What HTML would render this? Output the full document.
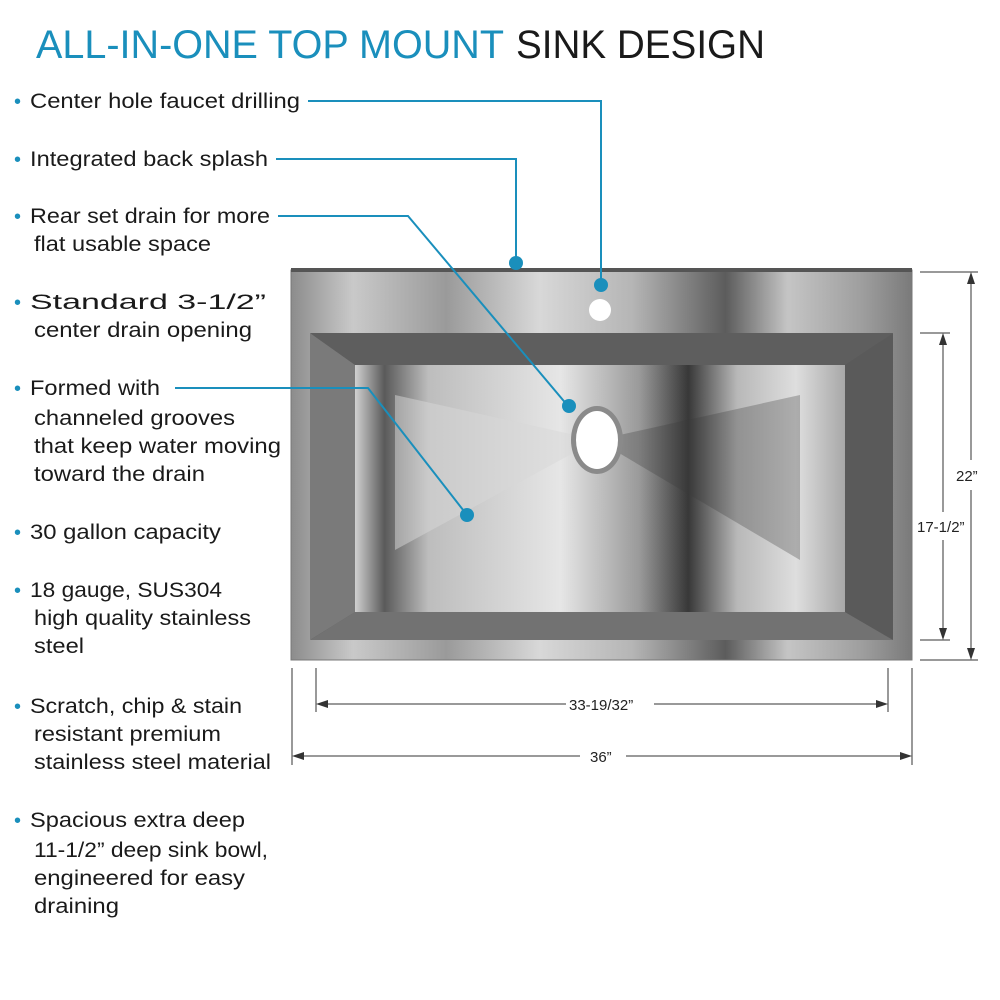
<!DOCTYPE html>
<html><head><meta charset="utf-8"><style>
html,body{margin:0;padding:0;background:#fff;width:1000px;height:1000px;overflow:hidden}
svg{display:block}
text{font-family:"Liberation Sans",sans-serif}
</style></head><body>
<svg width="1000" height="1000" viewBox="0 0 1000 1000" xmlns="http://www.w3.org/2000/svg">
<defs>
<linearGradient id="rim" x1="0" x2="1" y1="0" y2="0">
<stop offset="0" stop-color="#8c8c8c"/><stop offset="0.1" stop-color="#c9c9c9"/><stop offset="0.25" stop-color="#9a9a9a"/><stop offset="0.4" stop-color="#d8d8d8"/><stop offset="0.55" stop-color="#b5b5b5"/><stop offset="0.7" stop-color="#5c5c5c"/><stop offset="0.8" stop-color="#c5c5c5"/><stop offset="0.92" stop-color="#9e9e9e"/><stop offset="1" stop-color="#7a7a7a"/>
</linearGradient>
<linearGradient id="floor" x1="0" x2="1" y1="0" y2="0">
<stop offset="0" stop-color="#d0d0d0"/><stop offset="0.06" stop-color="#5a5a5a"/><stop offset="0.15" stop-color="#bdbdbd"/><stop offset="0.42" stop-color="#e6e6e6"/><stop offset="0.58" stop-color="#9a9a9a"/><stop offset="0.68" stop-color="#383838"/><stop offset="0.78" stop-color="#b8b8b8"/><stop offset="0.9" stop-color="#dedede"/><stop offset="1" stop-color="#a8a8a8"/>
</linearGradient>
<linearGradient id="wall" x1="0" x2="1" y1="0" y2="0">
<stop offset="0" stop-color="#4a4a4a"/><stop offset="0.3" stop-color="#9a9a9a"/><stop offset="0.5" stop-color="#c0c0c0"/><stop offset="0.7" stop-color="#3c3c3c"/><stop offset="1" stop-color="#6a6a6a"/>
</linearGradient>
</defs>

<text x="36" y="58" font-size="40" fill="#1a8fbc" textLength="468" lengthAdjust="spacingAndGlyphs">ALL-IN-ONE TOP MOUNT</text>
<text x="516" y="58" font-size="40" fill="#1a1a1a" textLength="249" lengthAdjust="spacingAndGlyphs">SINK DESIGN</text>

<g font-size="21" fill="#1a1a1a">
<g fill="#1a8fbc" font-size="20">
<text x="14" y="108">•</text><text x="14" y="166">•</text><text x="14" y="223">•</text><text x="14" y="309">•</text><text x="14" y="395">•</text><text x="14" y="539">•</text><text x="14" y="597">•</text><text x="14" y="713">•</text><text x="14" y="827">•</text>
</g>
<text x="30" y="108" textLength="270" lengthAdjust="spacingAndGlyphs">Center hole faucet drilling</text>
<text x="30" y="166" textLength="238" lengthAdjust="spacingAndGlyphs">Integrated back splash</text>
<text x="30" y="223" textLength="240" lengthAdjust="spacingAndGlyphs">Rear set drain for more</text>
<text x="34" y="251" textLength="177" lengthAdjust="spacingAndGlyphs">flat usable space</text>
<text x="30" y="309" textLength="236" lengthAdjust="spacingAndGlyphs">Standard 3-1/2”</text>
<text x="34" y="337" textLength="218" lengthAdjust="spacingAndGlyphs">center drain opening</text>
<text x="30" y="395" textLength="130" lengthAdjust="spacingAndGlyphs">Formed with</text>
<text x="34" y="425" textLength="201" lengthAdjust="spacingAndGlyphs">channeled grooves</text>
<text x="34" y="453" textLength="247" lengthAdjust="spacingAndGlyphs">that keep water moving</text>
<text x="34" y="481" textLength="171" lengthAdjust="spacingAndGlyphs">toward the drain</text>
<text x="30" y="539" textLength="191" lengthAdjust="spacingAndGlyphs">30 gallon capacity</text>
<text x="30" y="597" textLength="192" lengthAdjust="spacingAndGlyphs">18 gauge, SUS304</text>
<text x="34" y="625" textLength="217" lengthAdjust="spacingAndGlyphs">high quality stainless</text>
<text x="34" y="653" textLength="50" lengthAdjust="spacingAndGlyphs">steel</text>
<text x="30" y="713" textLength="212" lengthAdjust="spacingAndGlyphs">Scratch, chip &amp; stain</text>
<text x="34" y="741" textLength="187" lengthAdjust="spacingAndGlyphs">resistant premium</text>
<text x="34" y="769" textLength="237" lengthAdjust="spacingAndGlyphs">stainless steel material</text>
<text x="30" y="827" textLength="215" lengthAdjust="spacingAndGlyphs">Spacious extra deep</text>
<text x="34" y="857" textLength="234" lengthAdjust="spacingAndGlyphs">11-1/2” deep sink bowl,</text>
<text x="34" y="885" textLength="211" lengthAdjust="spacingAndGlyphs">engineered for easy</text>
<text x="34" y="913" textLength="85" lengthAdjust="spacingAndGlyphs">draining</text>
</g>

<!-- sink -->
<rect x="291" y="270" width="621" height="390" fill="url(#rim)" stroke="#777" stroke-width="1"/>
<rect x="291" y="268" width="621" height="4" fill="#555"/>
<rect x="310" y="333" width="583" height="307" rx="3" fill="url(#wall)"/>
<polygon points="310,333 893,333 845,365 355,365" fill="#5e5e5e"/>
<polygon points="310,640 893,640 845,612 355,612" fill="#727272"/>
<polygon points="310,333 355,365 355,612 310,640" fill="#7a7a7a"/>
<polygon points="893,333 845,365 845,612 893,640" fill="#5a5a5a"/>
<rect x="355" y="365" width="490" height="247" fill="url(#floor)"/>
<polygon points="395,395 597,440 395,550" fill="#d8d8d8" opacity="0.5"/>
<polygon points="800,395 597,440 800,560" fill="#3a3a3a" opacity="0.3"/>
<circle cx="600" cy="310" r="11" fill="#fff"/>
<ellipse cx="597" cy="440" rx="26" ry="34" fill="#8a8a8a"/>
<ellipse cx="597" cy="440" rx="21" ry="29" fill="#fff"/>

<!-- leaders -->
<g stroke="#1a8fbc" stroke-width="2" fill="none">
<polyline points="308,101 601,101 601,283"/>
<polyline points="276,159 516,159 516,262"/>
<polyline points="278,216 408,216 568,406"/>
<polyline points="175,388 368,388 467,515"/>
</g>
<g fill="#1a8fbc">
<circle cx="601" cy="285" r="7"/><circle cx="516" cy="263" r="7"/><circle cx="569" cy="406" r="7"/><circle cx="467" cy="515" r="7"/>
</g>

<!-- dimensions -->
<g stroke="#333" stroke-width="1" fill="none">
<line x1="920" y1="272" x2="978" y2="272"/><line x1="920" y1="660" x2="978" y2="660"/>
<line x1="971" y1="280" x2="971" y2="460"/><line x1="971" y1="490" x2="971" y2="652"/>
<line x1="920" y1="333" x2="950" y2="333"/><line x1="920" y1="640" x2="950" y2="640"/>
<line x1="943" y1="340" x2="943" y2="512"/><line x1="943" y1="540" x2="943" y2="633"/>
<line x1="316" y1="668" x2="316" y2="712"/><line x1="888" y1="668" x2="888" y2="712"/>
<line x1="322" y1="704" x2="566" y2="704"/><line x1="654" y1="704" x2="882" y2="704"/>
<line x1="292" y1="668" x2="292" y2="765"/><line x1="912" y1="668" x2="912" y2="765"/>
<line x1="298" y1="756" x2="580" y2="756"/><line x1="626" y1="756" x2="906" y2="756"/>
</g>
<g fill="#333">
<polygon points="971,272 967,284 975,284"/><polygon points="971,660 967,648 975,648"/>
<polygon points="943,333 939,345 947,345"/><polygon points="943,640 939,628 947,628"/>
<polygon points="316,704 328,700 328,708"/><polygon points="888,704 876,700 876,708"/>
<polygon points="292,756 304,752 304,760"/><polygon points="912,756 900,752 900,760"/>
</g>
<g font-size="15" fill="#222">
<text x="956" y="481">22”</text>
<text x="917" y="532">17-1/2”</text>
<text x="569" y="710">33-19/32”</text>
<text x="590" y="762">36”</text>
</g>
</svg>
</body></html>
